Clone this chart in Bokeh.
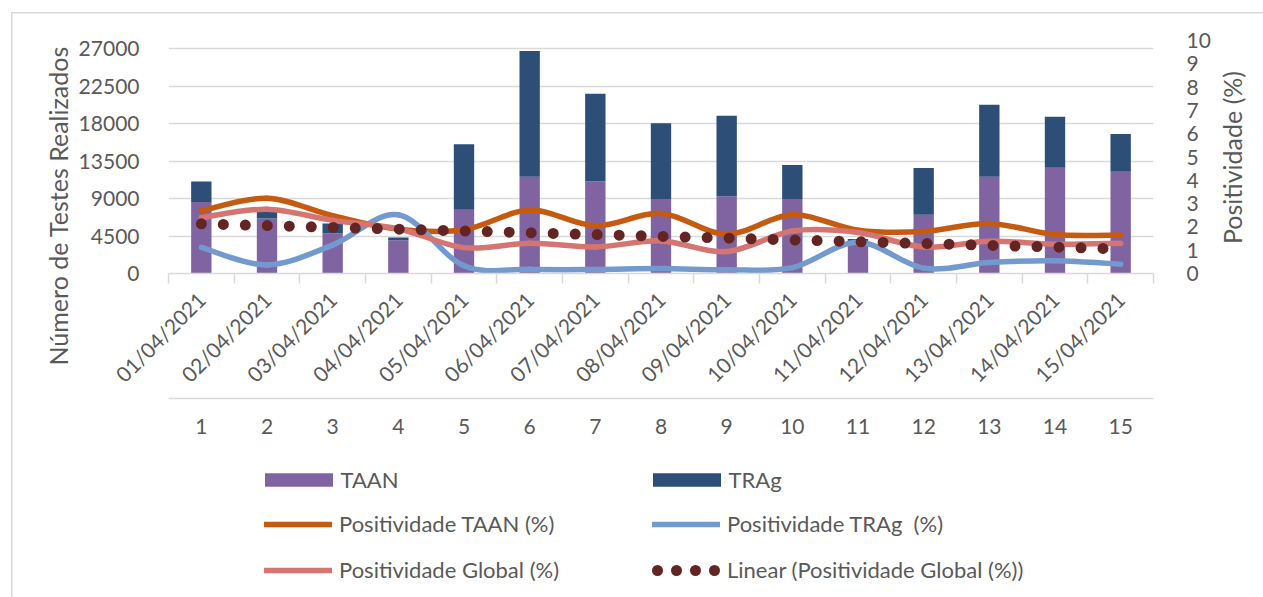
import numpy as np
from math import pi
from bokeh.plotting import figure
from bokeh.layouts import column, row
from bokeh.models import (ColumnDataSource, Range1d, LinearAxis, FixedTicker, Grid,
                          Legend, LegendItem, Title, Label)
from bokeh.embed import file_html
from bokeh.resources import INLINE

# ---------------- data ----------------
dates = ["01/04/2021", "02/04/2021", "03/04/2021", "04/04/2021", "05/04/2021",
         "06/04/2021", "07/04/2021", "08/04/2021", "09/04/2021", "10/04/2021",
         "11/04/2021", "12/04/2021", "13/04/2021", "14/04/2021", "15/04/2021"]
day_numbers = ["1", "2", "3", "4", "5", "6", "7", "8", "9", "10", "11", "12", "13", "14", "15"]
taan = [8600, 6600, 4800, 4000, 7650, 11630, 11100, 8950, 9260, 8950, 3900, 7060, 11630, 12700, 12230]
trag = [2450, 1270, 1200, 330, 7870, 15120, 10500, 9100, 9700, 4100, 250, 5620, 8660, 6150, 4540]
pos_taan = [2.69, 3.23, 2.48, 1.90, 1.88, 2.72, 2.05, 2.58, 1.69, 2.52, 1.86, 1.80, 2.15, 1.67, 1.65]
pos_trag = [1.12, 0.37, 1.22, 2.52, 0.33, 0.18, 0.17, 0.21, 0.16, 0.25, 1.34, 0.23, 0.47, 0.55, 0.40]
pos_global = [2.40, 2.76, 2.28, 1.92, 1.11, 1.30, 1.14, 1.40, 0.94, 1.82, 1.76, 1.14, 1.38, 1.26, 1.30]
left_ticks = [0, 4500, 9000, 13500, 18000, 22500, 27000]
right_ticks = [0, 1, 2, 3, 4, 5, 6, 7, 8, 9, 10]
legend_labels = ["TAAN", "TRAg", "Positividade TAAN (%)", "Positividade TRAg  (%)",
                 "Positividade Global (%)", "Linear (Positividade Global (%))"]
left_title = "Número de Testes Realizados"
right_title = "Positividade (%)"

# ---------------- style ----------------
FONT = "Lato"
FS = "21px"
FS_TITLE = "25px"
FS_LEG = "22px"
TXT = "#595959"
GRID = "#D9D9D9"
C_TAAN = "#8064A2"
C_TRAG = "#2C4E77"
C_PT = "#C55A11"
C_PR = "#729ACE"
C_PG = "#D47572"
C_TREND = "#632523"
LW = 5.5

x = np.arange(1, len(dates) + 1)
LEFT_MAX = 28000
RIGHT_MAX = 10
W, H = 1263, 597
FRAME_W, FRAME_H = 985, 233
BL, BT, BB = 168, 40, 182
BR = 54                           # room for the right tick labels
RIGHT_W = W - BL - FRAME_W - BR   # strip holding the right axis title
TOP_H = BT + FRAME_H + BB
LEG_H = H - TOP_H

p = figure(frame_width=FRAME_W, frame_height=FRAME_H,
           min_border_left=BL, min_border_right=BR, min_border_top=BT, min_border_bottom=BB,
           x_range=Range1d(0.5, len(dates) + 0.5), y_range=Range1d(0, LEFT_MAX),
           x_axis_type=None, y_axis_type=None,
           output_backend="svg", toolbar_location=None)
p.extra_y_ranges = {"right": Range1d(0, RIGHT_MAX)}
p.outline_line_color = None
p.background_fill_color = "white"
p.border_fill_alpha = 0

# grid
p.add_layout(Grid(dimension=1, ticker=FixedTicker(ticks=left_ticks),
                  grid_line_color=GRID, grid_line_width=1.5))

def style_axis(ax):
    ax.major_label_text_font = FONT
    ax.major_label_text_font_size = FS
    ax.major_label_text_color = TXT

ax_left = LinearAxis(ticker=FixedTicker(ticks=left_ticks),
                     major_label_overrides={t: str(t) for t in left_ticks},
                     axis_line_color=None, major_tick_line_color=None,
                     minor_tick_line_color=None, major_label_standoff=23)
style_axis(ax_left)
p.add_layout(ax_left, "left")

p.add_layout(Title(text=left_title, align="left", offset=-92,
                   text_font=FONT, text_font_size=FS_TITLE, text_color=TXT,
                   text_font_style="normal", standoff=6), "left")

ax_right = LinearAxis(y_range_name="right", ticker=FixedTicker(ticks=right_ticks),
                      axis_line_color=None, major_tick_line_color=None,
                      minor_tick_line_color=None, major_label_standoff=27)
style_axis(ax_right)
p.add_layout(ax_right, "right")

bounds = [i + 0.5 for i in range(0, len(dates) + 1)]
ax_dates = LinearAxis(ticker=FixedTicker(ticks=list(x), minor_ticks=bounds),
                      major_label_overrides={int(i): d for i, d in zip(x, dates)},
                      major_label_orientation=pi / 4,
                      axis_line_color=GRID, axis_line_width=1.5,
                      major_tick_line_color=None, major_tick_out=0, major_tick_in=0,
                      minor_tick_line_color=GRID, minor_tick_line_width=1.5,
                      minor_tick_out=10, minor_tick_in=0,
                      major_label_standoff=12)
style_axis(ax_dates)
p.add_layout(ax_dates, "below")

ax_nums = LinearAxis(ticker=FixedTicker(ticks=list(x)),
                     major_label_overrides={int(i): d for i, d in zip(x, day_numbers)},
                     axis_line_color=GRID, axis_line_width=1.5,
                     major_tick_line_color=None, major_tick_out=0, major_tick_in=0,
                     minor_tick_line_color=None, major_label_standoff=20)
style_axis(ax_nums)
p.add_layout(ax_nums, "below")

# bars
src = ColumnDataSource(dict(x=x, taan=taan, trag=trag))
p.vbar_stack(["taan", "trag"], x="x", width=0.31, source=src,
             fill_color=[C_TAAN, C_TRAG], line_color=None)

# smoothed lines (Excel-style cubic Bezier through the data points)
def smooth_source(xs, ys):
    xs = np.asarray(xs, float)
    ys = np.asarray(ys, float)
    xp = np.concatenate([[xs[0]], xs, [xs[-1]]])
    yp = np.concatenate([[ys[0]], ys, [ys[-1]]])
    d = dict(x0=[], y0=[], x1=[], y1=[], cx0=[], cy0=[], cx1=[], cy1=[])
    for i in range(len(xs) - 1):
        p0x, p0y = xp[i], yp[i]
        p1x, p1y = xp[i + 1], yp[i + 1]
        p2x, p2y = xp[i + 2], yp[i + 2]
        p3x, p3y = xp[i + 3], yp[i + 3]
        d["x0"].append(p1x); d["y0"].append(p1y)
        d["x1"].append(p2x); d["y1"].append(p2y)
        d["cx0"].append(p1x + (p2x - p0x) / 6); d["cy0"].append(p1y + (p2y - p0y) / 6)
        d["cx1"].append(p2x - (p3x - p1x) / 6); d["cy1"].append(p2y - (p3y - p1y) / 6)
    return ColumnDataSource(d)

for ys, col in [(pos_taan, C_PT), (pos_trag, C_PR), (pos_global, C_PG)]:
    p.bezier(x0="x0", y0="y0", x1="x1", y1="y1", cx0="cx0", cy0="cy0",
             cx1="cx1", cy1="cy1", source=smooth_source(x, ys),
             y_range_name="right", line_color=col, line_width=LW,
             line_cap="round", line_join="round")

# linear trendline of global positivity
coef = np.polyfit(x, pos_global, 1)
tx = [x[0], x[-1]]
ty = list(np.polyval(coef, tx))
p.line(x=tx, y=ty, y_range_name="right", line_color=C_TREND, line_width=11,
       line_dash="0 22", line_cap="round")

# ---------------- right title strip ----------------
rf = figure(width=RIGHT_W, height=TOP_H, x_range=Range1d(0, RIGHT_W), y_range=Range1d(0, FRAME_H),
            min_border_left=0, min_border_right=0, min_border_top=BT, min_border_bottom=BB,
            x_axis_type=None, y_axis_type=None, output_backend="svg", toolbar_location=None)
rf.outline_line_color = None
rf.background_fill_alpha = 0
rf.border_fill_alpha = 0
rf.add_layout(Label(x=1225 - (BL + FRAME_W + BR), y=BT + FRAME_H - 157, text=right_title,
                    angle=pi / 2, text_align="center", text_baseline="middle",
                    text_font=FONT, text_font_size=FS_TITLE, text_color=TXT))

# ---------------- legend strip ----------------
lf = figure(width=W, height=LEG_H, x_range=Range1d(0, FRAME_W), y_range=Range1d(0, LEG_H),
            min_border_left=BL, min_border_right=W - BL - FRAME_W, min_border_top=0,
            min_border_bottom=0, x_axis_type=None, y_axis_type=None,
            output_backend="svg", toolbar_location=None)
lf.outline_line_color = None
lf.background_fill_alpha = 0
lf.border_fill_alpha = 0
# one-point, zero-size proxies: they only carry the legend styling
r_taan = lf.vbar(x=x[:1], top=taan[:1], width=0, fill_color=C_TAAN, line_color=None)
r_trag = lf.vbar(x=x[:1], top=trag[:1], width=0, fill_color=C_TRAG, line_color=None)
r_pt = lf.line(x=x[:1], y=pos_taan[:1], line_color=C_PT, line_width=LW, line_cap="round")
r_pr = lf.line(x=x[:1], y=pos_trag[:1], line_color=C_PR, line_width=LW, line_cap="round")
r_pg = lf.line(x=x[:1], y=pos_global[:1], line_color=C_PG, line_width=LW, line_cap="round")
r_tr = lf.line(x=x[:1], y=pos_global[:1], line_color=C_TREND, line_width=11,
               line_dash="0 19", line_dash_offset=14, line_cap="round")

common = dict(ncols=2, orientation="horizontal", label_height=26, spacing=19,
              padding=0, margin=0, border_line_color=None, background_fill_alpha=0,
              label_text_font=FONT, label_text_font_size=FS_LEG, label_text_color=TXT)
# bar swatches (Bokeh insets area swatches by 10 %)
leg_bars = Legend(items=[LegendItem(label=legend_labels[0], renderers=[r_taan]),
                         LegendItem(label=legend_labels[1], renderers=[r_trag])],
                  location=(255.5 - BL, LEG_H - 12 - 26),
                  glyph_width=85, glyph_height=17, label_standoff=0, label_width=284, **common)
leg_lines = Legend(items=[LegendItem(label=l, renderers=[r])
                          for l, r in zip(legend_labels[2:], [r_pt, r_pr, r_pg, r_tr])],
                   location=(264 - BL, LEG_H - 57 - 71),
                   glyph_width=68, glyph_height=14, label_standoff=7, label_width=294, **common)
lf.add_layout(leg_bars, "center")
lf.add_layout(leg_lines, "center")

border_css = ("linear-gradient(#D9D9D9, #D9D9D9) 11px 12px / 1.5px 100% no-repeat, "
              "linear-gradient(#D9D9D9, #D9D9D9) 11px 12px / 100% 1.5px no-repeat, #FFFFFF")
layout = column(row(p, rf, spacing=0), lf, spacing=0, styles={"background": border_css})

open("out.html", "w").write(file_html(layout, INLINE))
